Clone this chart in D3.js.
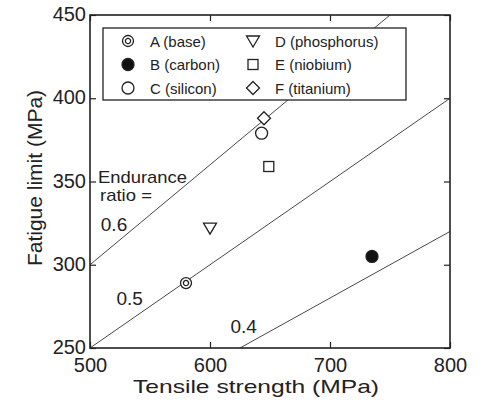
<!doctype html>
<html>
<head>
<meta charset="utf-8">
<script src="https://cdnjs.cloudflare.com/ajax/libs/d3/7.8.5/d3.min.js"></script>
<style>
  body { margin: 0; background: #fff; }
  svg { font-family: "Liberation Sans", Arial, sans-serif; }
  .tick text { font-size: 20px; fill: #222; }
  .tick line { stroke: #222; stroke-width: 1.2; }
  .frame { fill: none; stroke: #222; stroke-width: 1.6; }
  .ratio { stroke: #333; stroke-width: 0.9; }
  .mark { fill: #fff; stroke: #222; stroke-width: 1.3; }
  .leg text { font-size: 15px; fill: #222; }
  .note { font-size: 17px; fill: #222; }
</style>
</head>
<body>
<svg width="488" height="403"></svg>
<script>
// materials (tensile strength, fatigue limit)
var names = ["A (base)", "B (carbon)", "C (silicon)", "D (phosphorus)", "E (niobium)", "F (titanium)"];
var symbols = ["dcircle", "fcircle", "circle", "tri", "square", "diamond"];
var tensile = [580, 735, 643, 600, 649, 645];
var fatigue = [289, 305, 379, 322, 359, 388];

var ratios = [0.6, 0.5, 0.4];
var ratioLabelAt = [[509, 320], [522, 276], [617, 259]];
var xTicks = [500, 600, 700, 800];
var yTicks = [250, 300, 350, 400, 450];

var svg = d3.select("svg");
var mLeft = 90, mRight = 450, mTop = 15, mBottom = 348;

var x = d3.scaleLinear().domain([500, 800]).range([mLeft, mRight]);
var y = d3.scaleLinear().domain([250, 450]).range([mBottom, mTop]);

svg.append("clipPath").attr("id", "plot")
  .append("rect").attr("x", mLeft).attr("y", mTop)
  .attr("width", mRight - mLeft).attr("height", mBottom - mTop);

// endurance ratio lines
svg.append("g").attr("clip-path", "url(#plot)")
  .selectAll("line").data(ratios).enter()
  .append("line")
  .attr("class", "ratio")
  .attr("x1", x(500)).attr("y1", function (r) { return y(500 * r); })
  .attr("x2", x(800)).attr("y2", function (r) { return y(800 * r); });

svg.selectAll("text.rl").data(ratios).enter()
  .append("text")
  .attr("class", "note")
  .style("font-size", "19px")
  .attr("x", function (r, i) { return x(ratioLabelAt[i][0]); })
  .attr("y", function (r, i) { return y(ratioLabelAt[i][1]); })
  .text(function (r) { return r.toFixed(1); });

svg.append("text").attr("class", "note").attr("x", 98).attr("y", 183)
  .attr("textLength", 89).attr("lengthAdjust", "spacingAndGlyphs").text("Endurance");
svg.append("text").attr("class", "note").attr("x", 100).attr("y", 201)
  .attr("textLength", 52).attr("lengthAdjust", "spacingAndGlyphs").text("ratio =");

// axes (ticks pointing inward)
svg.append("g").attr("transform", "translate(0," + mBottom + ")")
  .call(d3.axisBottom(x).tickValues(xTicks).tickSize(-6).tickPadding(10))
  .call(function (g) { g.select(".domain").remove(); });
svg.append("g").attr("transform", "translate(0," + mTop + ")")
  .call(d3.axisTop(x).tickValues(xTicks).tickSize(-6).tickFormat(""))
  .call(function (g) { g.select(".domain").remove(); });
svg.append("g").attr("transform", "translate(" + mLeft + ",0)")
  .call(d3.axisLeft(y).tickValues(yTicks).tickSize(-6).tickPadding(4))
  .call(function (g) { g.select(".domain").remove(); })
  .call(function (g) { g.selectAll(".tick text").attr("dy", "0.28em"); });
svg.append("g").attr("transform", "translate(" + mRight + ",0)")
  .call(d3.axisRight(y).tickValues(yTicks).tickSize(-6).tickFormat(""))
  .call(function (g) { g.select(".domain").remove(); });

svg.append("rect").attr("class", "frame")
  .attr("x", mLeft).attr("y", mTop).attr("width", mRight - mLeft).attr("height", mBottom - mTop);

svg.append("text").attr("x", 133).attr("y", 393)
  .attr("font-size", "19px").attr("fill", "#222")
  .attr("textLength", 246).attr("lengthAdjust", "spacingAndGlyphs")
  .text("Tensile strength (MPa)");
svg.append("text").attr("transform", "translate(42,178) rotate(-90)").attr("text-anchor", "middle")
  .attr("font-size", "21px").attr("fill", "#222").text("Fatigue limit (MPa)");

function drawSymbol(g, s) {
  if (s === "dcircle") {
    g.append("circle").attr("class", "mark").attr("r", 5.5);
    g.append("circle").attr("class", "mark").attr("r", 2.6);
  } else if (s === "fcircle") {
    g.append("circle").attr("class", "mark").attr("r", 6).style("fill", "#111");
  } else if (s === "circle") {
    g.append("circle").attr("class", "mark").attr("r", 6);
  } else if (s === "tri") {
    g.append("path").attr("class", "mark").attr("d", "M-6.5,-5L6.5,-5L0,6Z");
  } else if (s === "square") {
    g.append("rect").attr("class", "mark").attr("x", -5).attr("y", -5).attr("width", 10).attr("height", 10);
  } else {
    g.append("path").attr("class", "mark").attr("d", "M0,-6.5L6.5,0L0,6.5L-6.5,0Z");
  }
}

// legend
var leg = svg.append("g").attr("class", "leg");
leg.append("rect").attr("x", 103).attr("y", 28).attr("width", 303).attr("height", 72)
  .attr("fill", "#fff").attr("stroke", "#222").attr("stroke-width", 1.3);
names.forEach(function (n, i) {
  var col = Math.floor(i / 3), row = i % 3;
  var gx = col === 0 ? 128 : 253, gy = 41 + row * 23.5;
  drawSymbol(leg.append("g").attr("transform", "translate(" + gx + "," + gy + ")"), symbols[i]);
  leg.append("text").attr("x", gx + 22).attr("y", gy + 5.5).text(n);
});

// data points
tensile.forEach(function (t, i) {
  drawSymbol(svg.append("g").attr("transform", "translate(" + x(t) + "," + y(fatigue[i]) + ")"), symbols[i]);
});
</script>
</body>
</html>
